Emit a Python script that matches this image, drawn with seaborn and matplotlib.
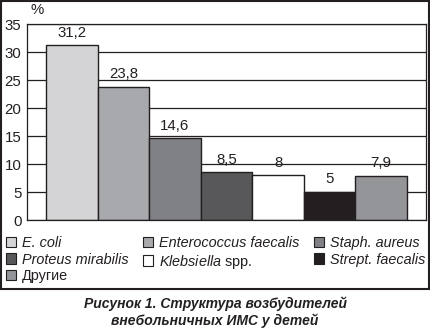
import matplotlib
matplotlib.use("Agg")
import matplotlib.pyplot as plt
from matplotlib.patches import Patch, Rectangle
import seaborn as sns
import pandas as pd

categories = ["E. coli", "Enterococcus faecalis", "Staph. aureus", "Proteus mirabilis",
              "Klebsiella spp.", "Strept. faecalis", "Другие"]
values = [31.2, 23.8, 14.6, 8.5, 8, 5, 7.9]
value_labels = ["31,2", "23,8", "14,6", "8,5", "8", "5", "7,9"]
colors = ["#d4d4d6", "#a8a9ac", "#808184", "#58585a", "#ffffff", "#231f20", "#939598"]
yticks = [0, 5, 10, 15, 20, 25, 30, 35]
title = "Рисунок 1. Структура возбудителей\nвнебольничных ИМС у детей"

sns.set_theme(style="white")
plt.rcParams["font.family"] = ["Liberation Sans", "DejaVu Sans"]
plt.rcParams["mathtext.fontset"] = "custom"
plt.rcParams["mathtext.it"] = "Liberation Sans:italic"
plt.rcParams["mathtext.rm"] = "Liberation Sans"

df = pd.DataFrame({"cat": categories, "val": values})
ink = "#231f20"

fig = plt.figure(figsize=(4.3, 3.28), dpi=100)
ax = fig.add_axes([27 / 430, 1 - 220 / 328, 399 / 430, 196 / 328])
sns.barplot(data=df, x="cat", y="val", hue="cat", palette=colors, width=1.0,
            saturation=1, edgecolor=ink, linewidth=1.0, legend=False, ax=ax)

ax.set_xlim(-0.868, 6.868)
ax.set_ylim(0, 35)
ax.set_yticks(yticks)
ax.set_yticklabels([str(t) for t in yticks], fontsize=10.8, color=ink)
ax.set_xticks([])
ax.set_xlabel("")
ax.set_ylabel("")
ax.tick_params(axis="y", length=0, pad=4)
ax.yaxis.grid(True, color=ink, linewidth=0.9)
ax.set_axisbelow(True)
for s in ax.spines.values():
    s.set_visible(True)
    s.set_color(ink)
    s.set_linewidth(0.9)

for i, (v, lab) in enumerate(zip(values, value_labels)):
    ax.annotate(lab, (i, v), xytext=(0, 4), textcoords="offset points",
                ha="center", va="bottom", fontsize=10.8, color=ink)

ax.text(0.008, 1.035, "%", transform=ax.transAxes, fontsize=10.8, color=ink,
        ha="left", va="bottom")

order = [0, 3, 6, 1, 4, 2, 5]
handles = [Patch(facecolor=colors[i], edgecolor=ink, linewidth=0.8) for i in order]
labels = []
for i in order:
    if categories[i] == "Klebsiella spp.":
        labels.append(r"$\it{Klebsiella}$ spp.")
    else:
        labels.append(categories[i])
leg = fig.legend(handles, labels, ncol=3, loc="upper left",
                 bbox_to_anchor=(6 / 430, 1 - 236 / 328), frameon=False,
                 fontsize=10.4, handlelength=0.7, handleheight=0.7,
                 handletextpad=0.4, columnspacing=1.0, labelspacing=0.18,
                 borderpad=0, borderaxespad=0)
for t, i in zip(leg.get_texts(), order):
    t.set_color(ink)
    if categories[i] not in ("Klebsiella spp.", "Другие"):
        t.set_style("italic")

fig.add_artist(Rectangle((1 / 430, 1 - 289 / 328), 428 / 430, 288 / 328,
                         transform=fig.transFigure, fill=False, lw=1.5, ec=ink))

fig.text(0.5, 1 - 312 / 328, title, ha="center", va="center", fontsize=10,
         fontweight="bold", fontstyle="italic", color=ink, linespacing=1.25)

fig.savefig("out.png", dpi=100)
